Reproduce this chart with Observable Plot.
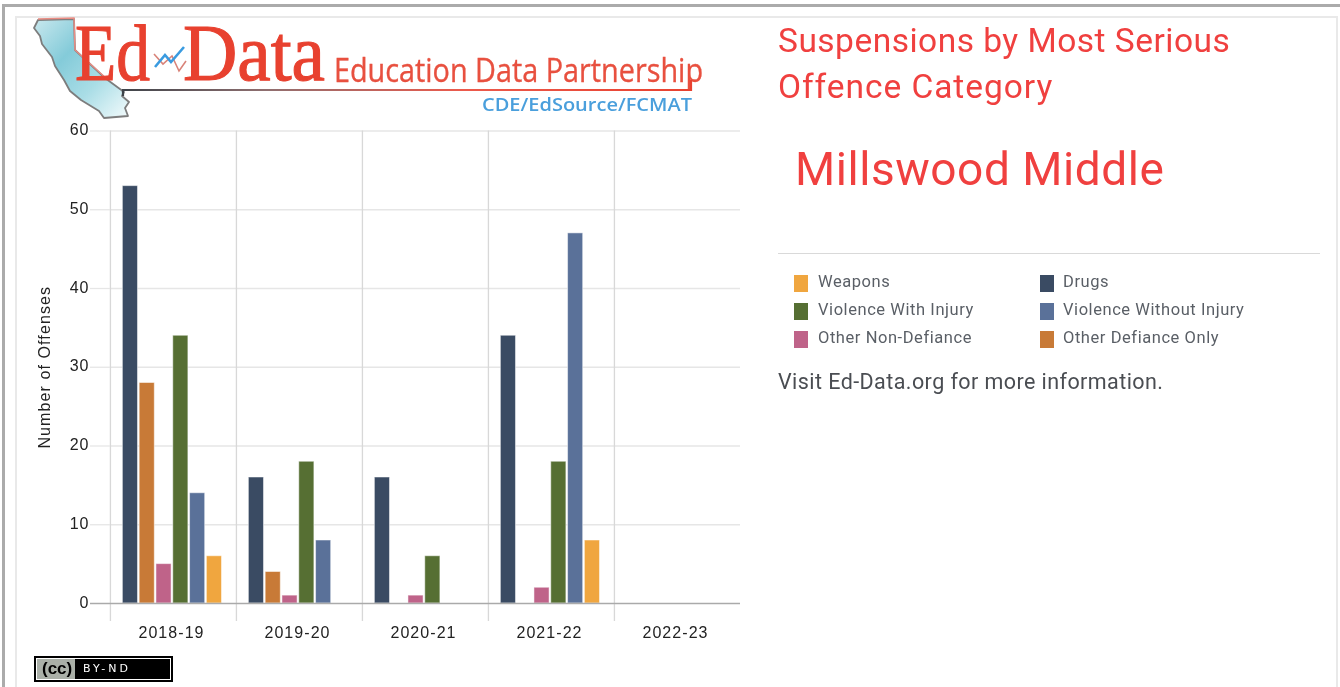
<!DOCTYPE html>
<html><head><meta charset="utf-8">
<script src="https://cdn.jsdelivr.net/npm/d3@7"></script>
<script src="https://cdn.jsdelivr.net/npm/@observablehq/plot@0.6"></script>
<style>
html,body{margin:0;padding:0;background:#fff;overflow:hidden}
body{width:1340px;height:687px;position:relative;font-family:Roboto,sans-serif;filter:blur(.45px)}
.abs{position:absolute;white-space:nowrap}
#outer{left:2px;top:4px;width:1340px;height:700px;border:3px solid #ababab;border-right:0;border-bottom:0;box-sizing:border-box}
#inner{left:15px;top:16px;width:1323px;height:700px;border:2px solid #e9e9e9;border-bottom:0;box-sizing:border-box}
#chart{left:0;top:109px}
#logo{left:0;top:0}
.title{color:#f0403f;font-size:33.5px;left:778px;line-height:46px}
.sw{width:14px;height:17px}
.lg{font-size:16.5px;color:#5a5f66;line-height:20px;letter-spacing:.56px}
#badge{left:34px;top:656px;width:139px;height:26px;background:#000;border:2px solid #000;box-sizing:border-box;box-shadow:inset 0 0 0 1px #fff}
</style></head><body>
<div class="abs" id="outer"></div><div class="abs" id="inner"></div>
<div class="abs" id="chart"></div>
<svg class="abs" id="logo" width="840" height="125" viewBox="0 0 840 125">
<defs>
<linearGradient id="ca" x1="0" y1="0" x2="1" y2="1"><stop offset="0" stop-color="#c9e8ee"/><stop offset=".35" stop-color="#84cbd9"/><stop offset=".65" stop-color="#a9dde6"/><stop offset="1" stop-color="#f4fbfc"/></linearGradient>
<linearGradient id="ul" x1="0" x2="1"><stop offset="0" stop-color="#3f444a"/><stop offset=".25" stop-color="#8f6f70"/><stop offset=".6" stop-color="#ec5a4c"/><stop offset="1" stop-color="#e8412f"/></linearGradient>
</defs>
<path d="M38 20 L74 19 L75 50 L105 78 L124 92 L122 96 L129 102 L125 108 L128 116 L104 118 L99 111 L81 100 L70 91 L64 80 L55 66 L52 57 L42 44 L40 36 L34 28 Z" fill="url(#ca)" stroke="#7d7d7d" stroke-width="1.8" stroke-linejoin="round"/>
<path d="M38 19 L74 18 L75 50 L108 80" fill="none" stroke="#ea8d84" stroke-width="1.4"/>
<text x="75" y="80" font-family="Liberation Serif" font-size="80" fill="#e8412f" stroke="#e8412f" stroke-width="1.1" textLength="75" lengthAdjust="spacingAndGlyphs">Ed</text>
<text x="183" y="80" font-family="Liberation Serif" font-size="80" fill="#e8412f" stroke="#e8412f" stroke-width="1.1" textLength="142" lengthAdjust="spacingAndGlyphs">Data</text>
<path d="M154 51 L163 61 L172 53 L179 68 L186 58" transform="translate(0,3)" fill="none" stroke="#d98379" stroke-width="1.6"/>
<path d="M155 67 L165 55 L171 62 L184 47" fill="none" stroke="#3a9be0" stroke-width="2.6"/>
<text x="334" y="82" font-family="Open Sans" font-size="33" fill="#e8503f" stroke="#e8503f" stroke-width=".35" textLength="369" lengthAdjust="spacingAndGlyphs">Education Data Partnership</text>
<path d="M123 96 V90 H691 V80" fill="none" stroke="url(#ul)" stroke-width="2.2"/>
<text x="482" y="111" font-family="Open Sans" font-weight="600" font-size="18" fill="#4a9fdc" textLength="210" lengthAdjust="spacingAndGlyphs">CDE/EdSource/FCMAT</text>
</svg>
<div class="abs title" style="top:18px;letter-spacing:.49px">Suspensions by Most Serious</div>
<div class="abs title" style="top:64px;letter-spacing:.95px">Offence Category</div>
<div class="abs" style="left:795px;top:142px;color:#f0403f;font-size:46px;line-height:54px;letter-spacing:.55px">Millswood Middle</div>
<div class="abs" style="left:778px;top:253px;width:542px;height:1px;background:#d9d9d9"></div>
<div id="legend"></div>
<div class="abs" style="left:778px;top:369px;font-size:21.5px;line-height:26px;color:#4a4d52;letter-spacing:.43px">Visit Ed-Data.org for more information.</div>
<div class="abs" id="badge">
<div class="abs" style="left:1px;top:1px;width:38px;height:20px;background:#aab0a8"></div>
<div class="abs" style="left:6px;top:1px;font:bold 17px/20px 'Liberation Sans';color:#000">(cc)</div>
<div class="abs" style="left:47px;top:2px;font:11px/18px 'DejaVu Sans';color:#fff;letter-spacing:3px">BY-ND</div>
</div>
<script>
const years = ["2018-19","2019-20","2020-21","2021-22","2022-23"];
const categories = ["Drugs","Other Defiance Only","Other Non-Defiance","Violence With Injury","Violence Without Injury","Weapons"];
const colors = ["#3a4b63","#c87a37","#bf6389","#566f33","#5a7199","#f0a63f"];
const drugs = [53,16,16,34,0];
const otherDefiance = [28,4,0,0,0];
const otherNonDefiance = [5,1,1,2,0];
const violenceWithInjury = [34,18,6,18,0];
const violenceWithoutInjury = [14,8,0,47,0];
const weapons = [6,0,0,8,0];
const yTicks = [10,20,30,40,50,60];
const legendOrder = [["Weapons","Drugs"],["Violence With Injury","Violence Without Injury"],["Other Non-Defiance","Other Defiance Only"]];

const series = [drugs,otherDefiance,otherNonDefiance,violenceWithInjury,violenceWithoutInjury,weapons];
const rows = categories.flatMap((c,i)=>years.map((y,j)=>({year:y,category:c,value:series[i][j]})));
const tickFont = {fontSize:16, fontFamily:"Liberation Sans"};

const plot = Plot.plot({
  width:760, height:540, marginLeft:110, marginRight:20, marginTop:21.5, marginBottom:46,
  style:{background:"transparent",overflow:"visible"},
  fx:{domain:years,padding:0,label:null,axis:null,round:false},
  x:{domain:categories,axis:null,paddingInner:0.1,paddingOuter:0.8,align:0.46,round:false},
  y:{domain:[0,60],axis:null},
  color:{domain:categories,range:colors},
  marks:[
    Plot.ruleY(yTicks,{stroke:"#e6e6e6",strokeWidth:1.3}),
    Plot.ruleX(years,{fx:d=>d,x:()=>categories[0],dx:-20,stroke:"#d8d8d8",strokeWidth:1.3,insetBottom:-18}),
    Plot.barY(rows,{fx:"year",x:"category",y:"value",fill:"category",stroke:"#fff",strokeOpacity:.5,strokeWidth:1}),
    Plot.ruleY([0],{stroke:"#aaaaaa",strokeWidth:1.5}),
    Plot.axisY(yTicks,{tickSize:20,stroke:"#e6e6e6",strokeWidth:1.3,fill:"#222",label:"Number of Offenses",labelAnchor:"center",labelArrow:"none",labelOffset:70,tickPadding:1,...tickFont}),
    Plot.axisY([0],{tickSize:20,stroke:"#aaaaaa",strokeWidth:1.5,fill:"#222",label:null,tickPadding:1,...tickFont}),
    Plot.axisFx({anchor:"bottom",tickSize:0,tickPadding:23,dx:-2,label:null,fill:"#222",...tickFont})
  ]
});
d3.select(plot).selectAll("text").each(function(){
  const s=this.textContent;
  const sel=d3.select(this);
  if(s==="Number of Offenses") sel.style("letter-spacing","1.1px").attr("dy","-0.1em");
  else if(s.includes("-")) sel.style("letter-spacing","1.05px");
  else sel.style("letter-spacing","1px").attr("transform",function(){return (this.getAttribute("transform")||"")+" translate(0,-1)";});
});
document.getElementById("chart").append(plot);

const legend = document.getElementById("legend");
legendOrder.forEach((row,r)=>row.forEach((name,c)=>{
  const sw=document.createElement("div"); sw.className="abs sw";
  sw.style.left=(794+c*246)+"px"; sw.style.top=(275+r*28)+"px";
  sw.style.background=colors[categories.indexOf(name)];
  const t=document.createElement("div"); t.className="abs lg"; t.textContent=name;
  t.style.left=(818+c*245)+"px"; t.style.top=(272+r*28)+"px";
  legend.append(sw,t);
}));
</script>
</body></html>
